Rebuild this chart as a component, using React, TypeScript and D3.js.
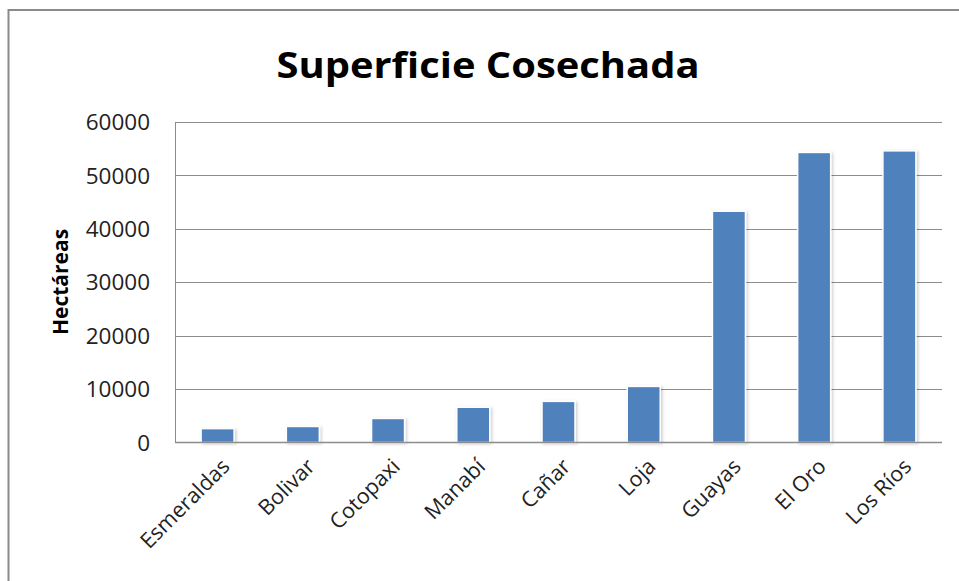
import React from "react";
import * as d3 from "d3";

const categories = ["Esmeraldas", "Bolivar", "Cotopaxi", "Manabí", "Cañar", "Loja", "Guayas", "El Oro", "Los Ríos"];
const values = [2600, 3000, 4500, 6600, 7700, 10500, 43300, 54300, 54600];
const yTicks = [0, 10000, 20000, 30000, 40000, 50000, 60000];
const title = "Superficie Cosechada";
const yTitle = "Hectáreas";

const W = 959, H = 581;
const plot = { left: 175, right: 942, top: 122, bottom: 442.5 };
const font = "'Open Sans', 'Liberation Sans', sans-serif";

export default function App() {
  const xb = d3.scaleBand<string>().domain(categories).range([plot.left, plot.right]);
  const y = d3.scaleLinear().domain([0, 60000]).range([plot.bottom, plot.top]);
  return (
    <svg width={W} height={H} style={{ position: "absolute", left: 0, top: 0, background: "#fff" }}>
      <defs>
        <filter id="sh" x="-30%" y="-10%" width="160%" height="130%">
          <feDropShadow dx="1.5" dy="1" stdDeviation="1.5" floodColor="#000" floodOpacity="0.2" />
        </filter>
      </defs>
      <rect x={8.5} y={10} width={1000} height={700} fill="#fff" stroke="#8a8a8a" strokeWidth={2} />
      <text x={488} y={78} textAnchor="middle" fontFamily={font} fontWeight="bold" fontSize={35} fill="#000"
        textLength={423} lengthAdjust="spacingAndGlyphs">{title}</text>
      {yTicks.map((t) => (
        <g key={t}>
          {t > 0 && <line x1={plot.left} x2={plot.right} y1={Math.round(y(t)) + 0.5} y2={Math.round(y(t)) + 0.5} stroke="#8c8c8c" strokeWidth={1} />}
          <text x={150} y={y(t)} dy="0.36em" textAnchor="end" fontFamily={font} fontSize={22.5} fill="#222">{t}</text>
        </g>
      ))}
      <line x1={plot.left + 0.5} x2={plot.left + 0.5} y1={plot.top} y2={plot.bottom} stroke="#8c8c8c" strokeWidth={1} />
      {categories.map((c, i) => {
        const cx = (xb(c) as number) + xb.bandwidth() / 2;
        const bw = 33;
        return (
          <g key={c}>
            <rect x={cx - bw / 2} y={y(values[i])} width={bw} height={plot.bottom - y(values[i])} fill="#4f81bd" stroke="#fff" strokeWidth={1.5} filter="url(#sh)" />
            <text transform={`translate(${cx + 8},${plot.bottom + 20}) rotate(-45)`} textAnchor="end" dy="0.35em" fontFamily={font} fontSize={21.5} fill="#222">{c}</text>
          </g>
        );
      })}
      <line x1={plot.left} x2={plot.right} y1={plot.bottom} y2={plot.bottom} stroke="#8c8c8c" strokeWidth={1.5} />
      <text transform={`translate(68,282) rotate(-90)`} textAnchor="middle" fontFamily={font} fontWeight="bold" fontSize={21} fill="#000">{yTitle}</text>
    </svg>
  );
}
